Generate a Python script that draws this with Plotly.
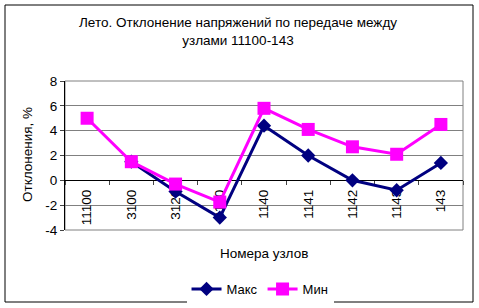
import plotly.graph_objects as go

categories = ["11100", "3100", "3120", "3140", "1140", "1141", "1142", "1143", "143"]
maks = [None, 1.5, -0.9, -3.0, 4.4, 2.0, 0.0, -0.8, 1.4]
mins = [5.0, 1.5, -0.3, -1.75, 5.8, 4.1, 2.7, 2.1, 4.5]
y_ticks = [-4, -2, 0, 2, 4, 6, 8]
y_tick_text = ["-4", "-2", "0", "2", "4", "6", "8"]

FONT = "Liberation Sans, Arial, sans-serif"

fig = go.Figure()
fig.add_trace(go.Scatter(x=categories, y=maks, name="Макс", mode="lines+markers",
                         line=dict(color="#000080", width=3),
                         marker=dict(symbol="diamond", size=11, color="#000080")))
fig.add_trace(go.Scatter(x=categories, y=mins, name="Мин", mode="lines+markers",
                         line=dict(color="#FF00FF", width=3),
                         marker=dict(symbol="square", size=13, color="#FF00FF")))

fig.update_layout(
    width=479, height=308,
    margin=dict(l=65, r=16, t=81, b=78, autoexpand=False),
    paper_bgcolor="white", plot_bgcolor="white",
    font=dict(family=FONT, size=13, color="black"),
    showlegend=True,
    legend=dict(orientation="h", x=0.49, y=-0.396, xanchor="center", yanchor="middle",
                font=dict(size=13), itemwidth=30, tracegroupgap=0),
    xaxis=dict(type="category", anchor="free", position=4/12, showline=True,
               linecolor="black", linewidth=1, ticks="outside", ticklen=4,
               tickson="boundaries", tickangle=-90, showgrid=False,
               layer="below traces", tickfont=dict(size=13.5),
               range=[-0.5, 8.5], automargin=False, ticklabelstandoff=3),
    yaxis=dict(range=[-4, 8], tickvals=y_ticks, ticktext=y_tick_text, showline=True,
               linecolor="black", linewidth=1, ticks="outside", ticklen=4, showgrid=True,
               gridcolor="#808080", gridwidth=1, zeroline=False, automargin=False,
               tickfont=dict(size=13.5)),
)

# plot area frame
fig.add_shape(type="rect", xref="paper", yref="paper", x0=0, x1=1, y0=0, y1=1,
              line=dict(color="#808080", width=1), layer="below")
# outer chart border
fig.add_shape(type="rect", xref="paper", yref="paper",
              x0=(5-65)/398, x1=(473-65)/398, y0=-(302-230)/149, y1=1+(81-5)/149,
              line=dict(color="black", width=1), layer="below")

fig.add_annotation(text="Лето. Отклонение напряжений по передаче между<br>узлами 11100-143",
                   xref="paper", yref="paper", x=(238-65)/398, y=1+(81-32)/149,
                   showarrow=False, font=dict(size=13.5), xanchor="center", yanchor="middle")
fig.add_annotation(text="Номера узлов", xref="paper", yref="paper",
                   x=(264-65)/398, y=-(253-230)/149, showarrow=False,
                   font=dict(size=13.5), xanchor="center", yanchor="middle")
fig.add_annotation(text="Отклонения, %", xref="paper", yref="paper",
                   x=(27-65)/398, y=(230-155)/149, textangle=-90, showarrow=False,
                   font=dict(size=13.5), xanchor="center", yanchor="middle")

fig.write_html("out.html")
